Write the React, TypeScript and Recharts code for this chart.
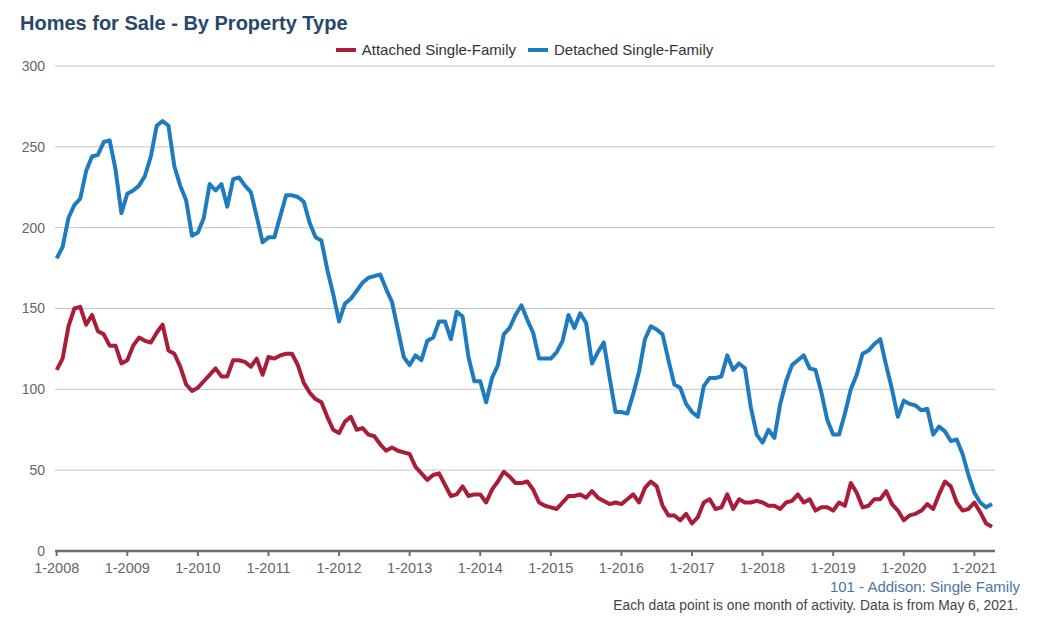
import React from "react";
import { LineChart, Line, XAxis, YAxis, CartesianGrid } from "recharts";

const startYear = 2008;
const monthCount = 160;

const attached: number[] = [
  112, 119, 139, 150, 151, 140, 146, 136, 134, 127, 127, 116,
  118, 127, 132, 130, 129, 135, 140, 124, 122, 114, 103, 99,
  101, 105, 109, 113, 108, 108, 118, 118, 117, 114, 119, 109,
  120, 119, 121, 122, 122, 115, 104, 98, 94, 92, 83, 75,
  73, 80, 83, 75, 76, 72, 71, 66, 62, 64, 62, 61,
  60, 52, 48, 44, 47, 48, 41, 34, 35, 40, 34, 35,
  35, 30, 38, 43, 49, 46, 42, 42, 43, 38, 30, 28,
  27, 26, 30, 34, 34, 35, 33, 37, 33, 31, 29, 30,
  29, 32, 35, 30, 39, 43, 40, 28, 22, 22, 19, 23,
  17, 21, 30, 32, 26, 27, 35, 26, 32, 30, 30, 31,
  30, 28, 28, 26, 30, 31, 35, 30, 32, 25, 27, 27,
  25, 30, 28, 42, 36, 27, 28, 32, 32, 37, 29, 25,
  19, 22, 23, 25, 29, 26, 35, 43, 40, 30, 25, 26,
  30, 24, 17, 15,
];

const detached: number[] = [
  181, 188, 206, 214, 218, 235, 244, 245, 253, 254, 236, 209,
  221, 223, 226, 232, 244, 263, 266, 263, 238, 226, 217, 195,
  197, 206, 227, 223, 227, 213, 230, 231, 226, 222, 207, 191,
  194, 194, 207, 220, 220, 219, 216, 203, 194, 192, 174, 159,
  142, 153, 156, 161, 166, 169, 170, 171, 162, 154, 137, 120,
  115, 121, 118, 130, 132, 142, 142, 131, 148, 145, 120, 105,
  105, 92, 107, 115, 134, 138, 146, 152, 143, 135, 119, 119,
  119, 123, 130, 146, 138, 147, 141, 116, 123, 129, 107, 86,
  86, 85, 97, 111, 131, 139, 137, 134, 118, 103, 101, 91,
  86, 83, 102, 107, 107, 108, 121, 112, 116, 113, 89, 72,
  67, 75, 70, 91, 105, 115, 118, 121, 113, 112, 98, 81,
  72, 72, 85, 100, 109, 122, 124, 128, 131, 115, 100, 83,
  93, 91, 90, 87, 88, 72, 77, 74, 68, 69, 60, 47,
  36, 30, 27, 29,
];

const tickLabels: string[] = [
  "1-2008", "1-2009", "1-2010", "1-2011", "1-2012", "1-2013", "1-2014",
  "1-2015", "1-2016", "1-2017", "1-2018", "1-2019", "1-2020", "1-2021",
];

const yTicks: number[] = [0, 50, 100, 150, 200, 250, 300];

const seriesNames = ["Attached Single-Family", "Detached Single-Family"];
const RED = "#a91d3a";
const BLUE = "#1f7bbf";

const data = Array.from({ length: monthCount }, (_, i) => ({
  idx: i,
  month: `${(i % 12) + 1}-${startYear + Math.floor(i / 12)}`,
  attached: attached[i],
  detached: detached[i],
}));

const xTicks = tickLabels.map((_, k) => k * 12);

const font = '"Liberation Sans", Arial, Helvetica, sans-serif';

export default function App() {
  return (
    <div
      style={{
        position: "absolute",
        left: 0,
        top: 0,
        width: 1043,
        height: 620,
        background: "#fff",
        fontFamily: font,
        overflow: "hidden",
      }}
    >
      <div
        style={{
          position: "absolute",
          left: 20,
          top: 12,
          fontSize: 20,
          fontWeight: "bold",
          color: "#27476b",
          whiteSpace: "nowrap",
        }}
      >
        Homes for Sale - By Property Type
      </div>
      <div
        style={{
          position: "absolute",
          left: 0,
          top: 41,
          width: 1049,
          display: "flex",
          justifyContent: "center",
          alignItems: "center",
          fontSize: 15,
          color: "#333",
          whiteSpace: "nowrap",
        }}
      >
        <span style={{ display: "inline-block", width: 20, height: 4, background: RED, marginRight: 6 }} />
        <span style={{ marginRight: 12 }}>{seriesNames[0]}</span>
        <span style={{ display: "inline-block", width: 20, height: 4, background: BLUE, marginRight: 6 }} />
        <span>{seriesNames[1]}</span>
      </div>
      <LineChart
        width={1043}
        height={620}
        data={data}
        margin={{ top: 66, right: 48, bottom: 39, left: 15 }}
      >
        <CartesianGrid vertical={false} stroke="#c4c4c4" strokeWidth={1} />
        <XAxis
          type="number"
          dataKey="idx"
          domain={[-0.29, 159.51]}
          allowDataOverflow
          ticks={xTicks}
          interval={0}
          tickFormatter={(v: number) => tickLabels[Math.round(v / 12)]}
          axisLine={{ stroke: "#6e6e6e", strokeWidth: 2.5 }}
          tickLine={{ stroke: "#6e6e6e", strokeWidth: 2 }}
          tickSize={5}
          tickMargin={7}
          tick={{ fill: "#666", fontSize: 14.5, fontFamily: font }}
          height={30}
        />
        <YAxis
          domain={[0, 300]}
          ticks={yTicks}
          interval={0}
          width={40}
          axisLine={false}
          tickLine={false}
          tickSize={8}
          tickMargin={2}
          tick={{ fill: "#666", fontSize: 14, fontFamily: font }}
        />
        <Line
          type="linear"
          dataKey="attached"
          name={seriesNames[0]}
          stroke={RED}
          strokeWidth={4}
          dot={false}
          strokeLinejoin="round"
          isAnimationActive={false}
        />
        <Line
          type="linear"
          dataKey="detached"
          name={seriesNames[1]}
          stroke={BLUE}
          strokeWidth={4}
          dot={false}
          strokeLinejoin="round"
          isAnimationActive={false}
        />
      </LineChart>
      <div
        style={{
          position: "absolute",
          right: 23,
          top: 578,
          fontSize: 15,
          color: "#4d74a3",
          whiteSpace: "nowrap",
        }}
      >
        101 - Addison: Single Family
      </div>
      <div
        style={{
          position: "absolute",
          right: 25,
          top: 598,
          fontSize: 13.8,
          color: "#444",
          whiteSpace: "nowrap",
        }}
      >
        Each data point is one month of activity. Data is from May 6, 2021.
      </div>
    </div>
  );
}
